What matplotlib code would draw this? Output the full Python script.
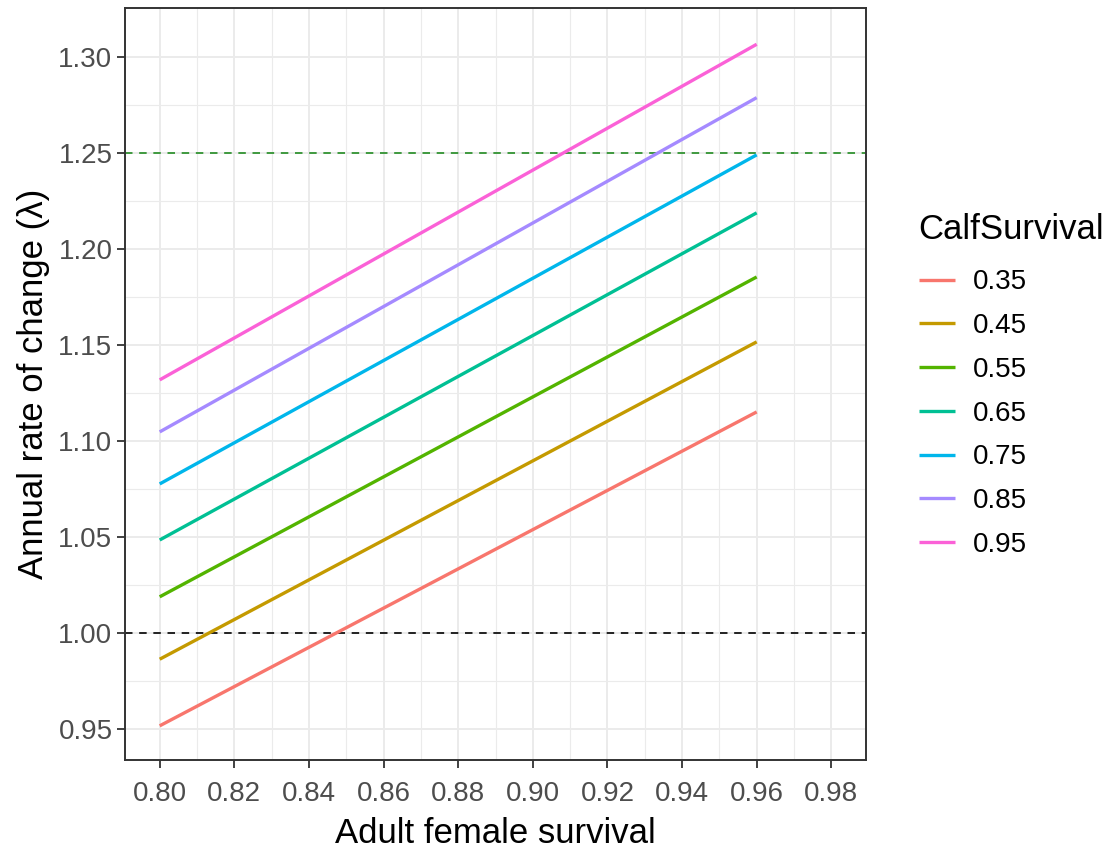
import matplotlib
matplotlib.use("Agg")
import matplotlib.pyplot as plt
import numpy as np

plt.rcParams['font.family'] = ['Liberation Sans', 'DejaVu Sans']

calf_survival = ["0.35", "0.45", "0.55", "0.65", "0.75", "0.85", "0.95"]
adult_survival = [0.80, 0.96]
lambda_start = [0.9516, 0.9863, 1.0188, 1.0484, 1.0776, 1.1047, 1.1318]
lambda_end = [1.1151, 1.1516, 1.1854, 1.2188, 1.2490, 1.2788, 1.3066]
colors = ["#F8766D", "#C49A00", "#53B400", "#00C094", "#00B6EB", "#A58AFF", "#FB61D7"]

x_ticks = [0.80, 0.82, 0.84, 0.86, 0.88, 0.90, 0.92, 0.94, 0.96, 0.98]
y_ticks = [0.95, 1.00, 1.05, 1.10, 1.15, 1.20, 1.25, 1.30]

fig = plt.figure(figsize=(11.12, 8.5), dpi=100)
ax = fig.add_axes([125/1112, 1-760/850, (866-125)/1112, (760-8)/850])

# grid
for xv in x_ticks:
    ax.axvline(xv, color="#EBEBEB", lw=1.4, zorder=0)
for xv in np.array(x_ticks[:-1]) + 0.01:
    ax.axvline(xv, color="#EBEBEB", lw=0.8, zorder=0)
for yv in y_ticks:
    ax.axhline(yv, color="#EBEBEB", lw=1.4, zorder=0)
for yv in np.array(y_ticks[:-1]) + 0.025:
    ax.axhline(yv, color="#EBEBEB", lw=0.8, zorder=0)

for lab, s, e, c in zip(calf_survival, lambda_start, lambda_end, colors):
    ax.plot(adult_survival, [s, e], color=c, lw=2.4, label=lab, solid_capstyle='butt', zorder=3)

ax.axhline(1.0, color="black", lw=1.2, ls=(0, (4.5, 4)), zorder=2)
ax.axhline(1.25, color="#228B22", lw=1.2, ls=(0, (4.5, 4)), zorder=2)

ax.set_xlim(0.7907, 0.9893)
ax.set_ylim(0.9338, 1.3255)
ax.set_xticks(x_ticks)
ax.set_xticklabels([f"{v:.2f}" for v in x_ticks])
ax.set_yticks(y_ticks)
ax.set_yticklabels([f"{v:.2f}" for v in y_ticks])
ax.tick_params(axis='both', labelsize=20, labelcolor="#4D4D4D", color="#333333",
               length=6, width=1.3, pad=3)
ax.tick_params(axis='x', pad=9)
for sp in ax.spines.values():
    sp.set_color("#333333")
    sp.set_linewidth(1.4)

ax.set_xlabel("Adult female survival", fontsize=25, labelpad=7)
ax.set_ylabel("Annual rate of change (λ)", fontsize=25, labelpad=6)

leg = ax.legend(title="CalfSurvival", loc="upper left", bbox_to_anchor=(1.011, 0.787),
                frameon=False, fontsize=20, title_fontsize=25, handlelength=1.3,
                labelspacing=0.64, handletextpad=0.65, borderaxespad=1.2)
leg._legend_box.align = "left"
leg._legend_box.sep = 17

fig.savefig("out.png", dpi=100)
